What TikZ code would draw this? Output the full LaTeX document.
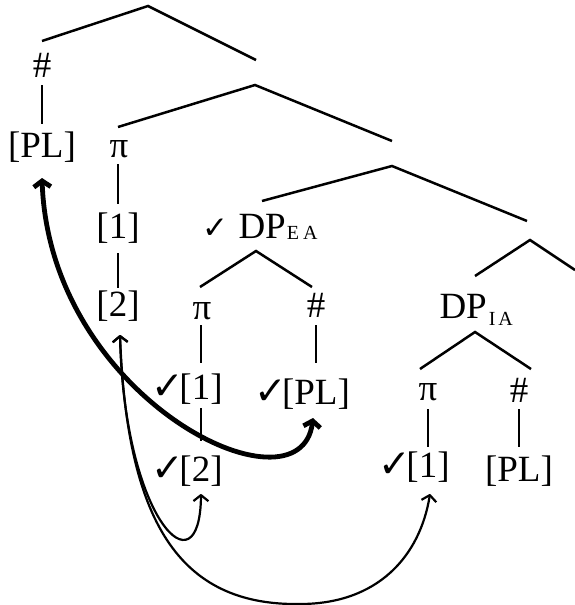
\documentclass[tikz,border=0pt]{standalone}
\usepackage{fontspec}
\setmainfont{Liberation Serif}
\newfontfamily\ckfont{DejaVu Sans}
\usetikzlibrary{arrows.meta}
\newcommand{\ckm}{{\ckfont\fontsize{39}{39}\selectfont ✓}}
\newcommand{\cks}{{\ckfont\fontsize{31}{31}\selectfont ✓}}
\newcommand{\subsc}[2]{\raisebox{#1}{\fontsize{20}{20}\selectfont #2}}
\begin{document}
\begin{tikzpicture}[x=1pt,y=-1pt,
  tx/.style={inner sep=0pt, outer sep=0pt, font=\fontsize{37}{40}\selectfont, anchor=base},
  br/.style={line width=2.5pt},
  thinarr/.style={line width=2.2pt, {Straight Barb[length=6pt,width=15pt,line join=round]}-{Straight Barb[length=6pt,width=15pt,line join=round]}},
  thickarr/.style={line width=4.8pt, {Straight Barb[length=6pt,width=17pt]}-{Straight Barb[length=6pt,width=17pt]}}]
\useasboundingbox (0,0) rectangle (575,605);

% text nodes
\node[tx] (hA) at (42,77) {\#};
\node[tx] (plA) at (42,157) {[PL]};
\node[tx] (piA) at (119,157) {π};
\node[tx] (oneA) at (118,238) {[1]};
\node[tx] (twoA) at (118,316) {[2]};
\node[tx, anchor=base west] (dpEA) at (238.5,238) {\llap{\cks\kern10pt}DP\kern1pt\subsc{-1pt}{E\kern4pt A}};
\node[tx] (piB) at (202,319) {π};
\node[tx] (hB) at (316,317) {\#};
\node[tx] (oneB) at (201,399) {\llap{\ckm\kern-5pt}[1]};
\node[tx] (twoB) at (201,481) {\llap{\ckm\kern-5pt}[2]};
\node[tx] (plB) at (316,404) {\llap{\ckm\kern-5pt}[PL]};
\node[tx, anchor=base west] (dpIA) at (439.5,318) {DP\kern2pt\subsc{-7pt}{I\kern3pt A}};
\node[tx] (piC) at (428,400) {π};
\node[tx] (hC) at (519,402) {\#};
\node[tx] (oneC) at (428,477) {\llap{\ckm\kern-5pt}[1]};
\node[tx] (plC) at (519,481) {[PL]};

% internal tree points
\coordinate (ap1) at (148,6);   \coordinate (e1a) at (42,41);   \coordinate (e1b) at (256,60);
\coordinate (ap2) at (255,85);  \coordinate (e2a) at (118,127); \coordinate (e2b) at (392,141);
\coordinate (ap3) at (392,166); \coordinate (e3a) at (262,201); \coordinate (e3b) at (527,221);
\coordinate (apE) at (256,251); \coordinate (e4a) at (200,287); \coordinate (e4b) at (312,287);
\coordinate (ap4) at (530,240); \coordinate (e5a) at (475,276); \coordinate (e5b) at (575,270);
\coordinate (apI) at (475,332); \coordinate (e6a) at (420,369); \coordinate (e6b) at (531,369);

% branches
\draw[br] (e1a) -- (ap1) -- (e1b);
\draw[br] (e2a) -- (ap2) -- (e2b);
\draw[br] (e3a) -- (ap3) -- (e3b);
\draw[br] (e4a) -- (apE) -- (e4b);
\draw[br] (e5a) -- (ap4) -- (e5b);
\draw[br] (e6a) -- (apI) -- (e6b);

% vertical lines
\draw[br] ([yshift=-8pt]hA.base) -- ([yshift=33pt]plA.base);
\draw[br] ([xshift=-1pt,yshift=-7pt]piA.base) -- ([yshift=34pt]oneA.base);
\draw[br] ([yshift=-15pt]oneA.base) -- ([yshift=28pt]twoA.base);
\draw[br] ([xshift=-1pt,yshift=-6pt]piB.base) -- ([yshift=36pt]oneB.base);
\draw[br] ([yshift=-9pt]oneB.base) -- ([yshift=40pt]twoB.base);
\draw[br] ([yshift=-8pt]hB.base) -- ([yshift=41pt]plB.base);
\draw[br] ([yshift=-9pt]piC.base) -- ([yshift=30pt]oneC.base);
\draw[br] ([yshift=-7pt]hC.base) -- ([yshift=34pt]plC.base);

% arrows
\draw[thickarr] ([yshift=-21pt]plA.base) .. controls (50,400) and (300,520) .. ([xshift=-3pt,yshift=-14pt]plB.base);
\draw[thinarr] ([xshift=2pt,yshift=-19pt]twoA.base) .. controls (124,520) and (200,595) .. ([yshift=-13pt]twoB.base);
\draw[thinarr] ([xshift=2pt,yshift=-19pt]twoA.base) .. controls (127,520) and (178,606) .. (300,604)
   .. controls (378,604) and (420,556) .. ([xshift=2pt,yshift=-17pt]oneC.base);
\end{tikzpicture}
\end{document}
